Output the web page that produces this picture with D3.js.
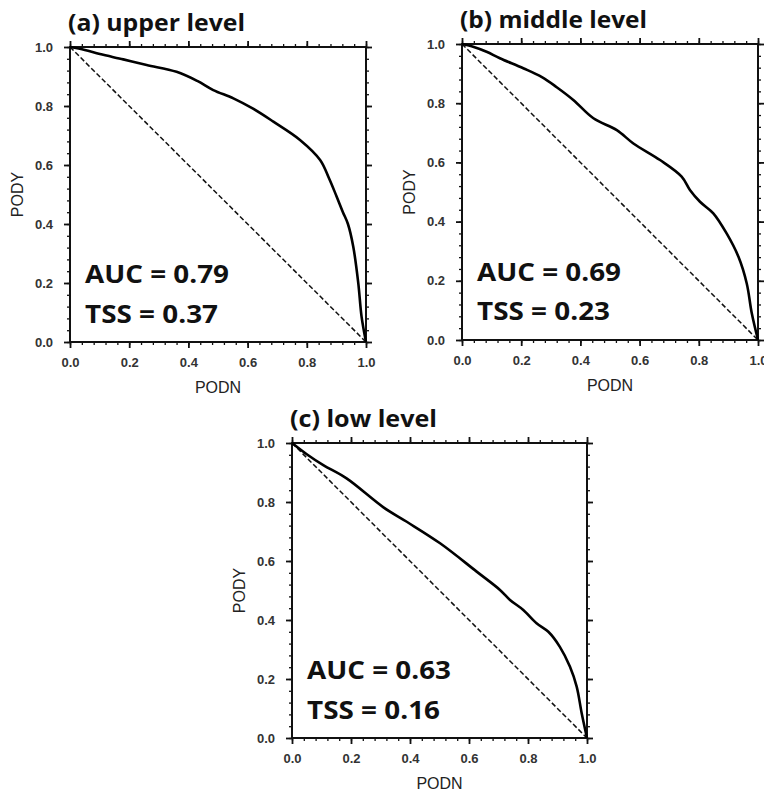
<!DOCTYPE html>
<html>
<head>
<meta charset="utf-8">
<script src="https://cdn.jsdelivr.net/npm/d3@7"></script>
<style>
  html, body { margin: 0; padding: 0; background: #fff; }
  svg { display: block; }
</style>
</head>
<body>
<svg id="chart" width="764" height="793"></svg>
<script>
// ---------- data ----------
const panelTitles = ["(a) upper level", "(b) middle level", "(c) low level"];
const aucValues = ["0.79", "0.69", "0.63"];
const tssValues = ["0.37", "0.23", "0.16"];
const majorTicks = [0.0, 0.2, 0.4, 0.6, 0.8, 1.0];
const tickLabels = ["0.0", "0.2", "0.4", "0.6", "0.8", "1.0"];
const xAxisTitle = "PODN";
const yAxisTitle = "PODY";

const upperPODN = [0, 0.05, 0.101, 0.18, 0.259, 0.36, 0.43, 0.484, 0.552, 0.62, 0.687, 0.777, 0.845, 0.875, 0.9, 0.922, 0.939, 0.957, 0.974, 0.985, 1.0];
const upperPODY = [1, 0.99, 0.976, 0.958, 0.939, 0.916, 0.885, 0.854, 0.826, 0.79, 0.747, 0.685, 0.617, 0.555, 0.495, 0.44, 0.40, 0.323, 0.199, 0.086, 0.0];

const middlePODN = [0, 0.04, 0.083, 0.128, 0.207, 0.27, 0.32, 0.376, 0.444, 0.523, 0.579, 0.669, 0.742, 0.77, 0.804, 0.849, 0.894, 0.934, 0.962, 0.979, 1.0];
const middlePODY = [1, 0.99, 0.974, 0.952, 0.918, 0.888, 0.854, 0.811, 0.749, 0.709, 0.664, 0.608, 0.552, 0.507, 0.467, 0.428, 0.36, 0.281, 0.191, 0.09, 0.0];

const lowPODN = [0, 0.05, 0.106, 0.185, 0.31, 0.389, 0.502, 0.626, 0.705, 0.739, 0.784, 0.829, 0.869, 0.908, 0.942, 0.965, 0.982, 1.0];
const lowPODY = [1, 0.962, 0.925, 0.880, 0.782, 0.733, 0.66, 0.564, 0.502, 0.468, 0.434, 0.389, 0.36, 0.309, 0.242, 0.174, 0.084, 0.0];

const curvesX = [upperPODN, middlePODN, lowPODN];
const curvesY = [upperPODY, middlePODY, lowPODY];

// ---------- layout ----------
const frames = [
  {left: 70,  top: 47,  width: 296, height: 295},
  {left: 462, top: 44,  width: 296, height: 296},
  {left: 292, top: 443, width: 295, height: 295}
];
const titleWidths = [177, 187, 147];

const svg = d3.select("#chart");
const minorTicks = d3.range(0, 1.0001, 0.04).map(v => +v.toFixed(2));
const labelFont = "'Liberation Sans', Arial, sans-serif";

frames.forEach((f, i) => {
  const g = svg.append("g").attr("transform", `translate(${f.left},${f.top})`);
  const x = d3.scaleLinear().domain([0, 1]).range([0, f.width]);
  const y = d3.scaleLinear().domain([0, 1]).range([f.height, 0]);

  const fmt = d => tickLabels[majorTicks.indexOf(d)] ?? "";

  // minor ticks
  const minorAxes = [
    [d3.axisBottom(x), `translate(0,${f.height})`],
    [d3.axisTop(x), null],
    [d3.axisLeft(y), null],
    [d3.axisRight(y), `translate(${f.width},0)`]
  ];
  minorAxes.forEach(([ax, tr]) => {
    const a = g.append("g").attr("class", "minor");
    if (tr) a.attr("transform", tr);
    a.call(ax.tickValues(minorTicks).tickSize(3).tickFormat(""));
    a.select(".domain").remove();
    a.selectAll("line").attr("stroke", "#111").attr("stroke-width", 1.3);
  });

  // major ticks + labels
  const bottom = g.append("g").attr("transform", `translate(0,${f.height})`)
    .call(d3.axisBottom(x).tickValues(majorTicks).tickSize(6).tickPadding(10).tickFormat(fmt));
  const left = g.append("g")
    .call(d3.axisLeft(y).tickValues(majorTicks).tickSize(6).tickPadding(11).tickFormat(fmt));
  const top = g.append("g")
    .call(d3.axisTop(x).tickValues(majorTicks).tickSize(6).tickFormat(""));
  const right = g.append("g").attr("transform", `translate(${f.width},0)`)
    .call(d3.axisRight(y).tickValues(majorTicks).tickSize(6).tickFormat(""));
  [bottom, left, top, right].forEach(a => {
    a.select(".domain").remove();
    a.selectAll("line").attr("stroke", "#111").attr("stroke-width", 1.8);
    a.selectAll("text")
      .attr("fill", "#333")
      .style("font-family", labelFont)
      .style("font-weight", "700")
      .style("font-size", "13px");
  });

  // frame
  g.append("rect").attr("x", 0).attr("y", 0)
    .attr("width", f.width).attr("height", f.height)
    .attr("fill", "none").attr("stroke", "#111").attr("stroke-width", 2);

  // diagonal reference
  const line = d3.line().x(d => x(d[0])).y(d => y(d[1]));
  g.append("path")
    .datum([[0, 1], [1, 0]])
    .attr("d", line)
    .attr("fill", "none").attr("stroke", "#111")
    .attr("stroke-width", 1.5).attr("stroke-dasharray", "5,2.5");

  // ROC curve
  const pts = curvesX[i].map((v, k) => [v, curvesY[i][k]]);
  g.append("path")
    .datum(pts)
    .attr("d", d3.line().x(d => x(d[0])).y(d => y(d[1])).curve(d3.curveCatmullRom.alpha(0.5)))
    .attr("fill", "none").attr("stroke", "#000")
    .attr("stroke-width", 2.6).attr("stroke-linejoin", "round");

  // axis titles
  g.append("text")
    .attr("x", f.width / 2).attr("y", f.height + 51)
    .attr("text-anchor", "middle")
    .attr("fill", "#222")
    .style("font-family", labelFont)
    .style("font-size", "16px")
    .text(xAxisTitle);
  g.append("text")
    .attr("transform", `translate(-47,${f.height / 2}) rotate(-90)`)
    .attr("text-anchor", "middle")
    .attr("fill", "#222")
    .style("font-family", labelFont)
    .style("font-size", "16px")
    .text(yAxisTitle);

  // panel title
  g.append("text")
    .attr("x", -2).attr("y", -16)
    .attr("fill", "#111")
    .style("font-family", "'Open Sans', sans-serif")
    .style("font-weight", "700")
    .style("font-size", "24px")
    .attr("textLength", titleWidths[i])
    .attr("lengthAdjust", "spacingAndGlyphs")
    .text(panelTitles[i]);

  // AUC / TSS annotations
  g.append("text")
    .attr("x", 15).attr("y", y(0.2))
    .attr("fill", "#111")
    .style("font-family", "'Open Sans', sans-serif")
    .style("font-weight", "700")
    .style("font-size", "25px")
    .attr("textLength", 144)
    .attr("lengthAdjust", "spacingAndGlyphs")
    .text("AUC = " + aucValues[i]);
  g.append("text")
    .attr("x", 15).attr("y", y(0.066))
    .attr("fill", "#111")
    .style("font-family", "'Open Sans', sans-serif")
    .style("font-weight", "700")
    .style("font-size", "25px")
    .attr("textLength", 133)
    .attr("lengthAdjust", "spacingAndGlyphs")
    .text("TSS = " + tssValues[i]);
});
</script>
</body>
</html>
